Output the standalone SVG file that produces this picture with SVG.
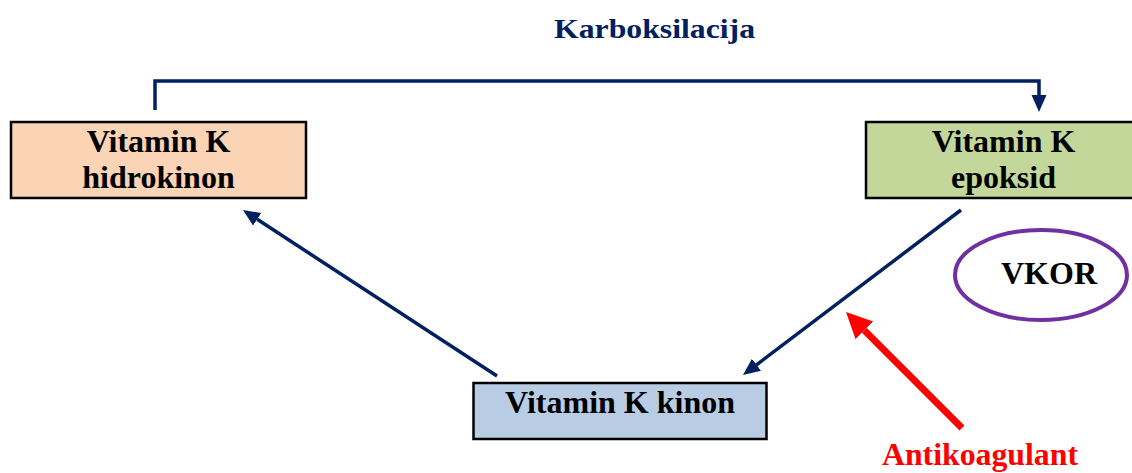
<svg xmlns="http://www.w3.org/2000/svg" width="1132" height="473" viewBox="0 0 1132 473">
<style>
.box{stroke:#000;stroke-width:2.5}
.t{font-family:"Liberation Serif","Times New Roman",serif;font-weight:bold;font-size:32px;fill:#000;text-anchor:middle}
.conn{fill:none;stroke:#002060;stroke-width:3.5}
</style>
<defs>
<marker id="ah" markerUnits="userSpaceOnUse" markerWidth="18" markerHeight="16" refX="0" refY="7.5" orient="auto">
<path d="M0,0 L17,7.5 L0,15 z" fill="#002060"/>
</marker>
<marker id="ahr" markerUnits="userSpaceOnUse" markerWidth="27" markerHeight="26" refX="0" refY="12.5" orient="auto">
<path d="M0,0 L26,12.5 L0,25 z" fill="#FF0000"/>
</marker>
</defs>
<rect width="1132" height="473" fill="#fff"/>
<text x="654.5" y="38" class="t" style="fill:#002060;font-size:28px" textLength="201" lengthAdjust="spacingAndGlyphs">Karboksilacija</text>
<g id="connectors">
<path class="conn" d="M155,110 L155,81 L1039,81 L1039,95" marker-end="url(#ah)"/>
<line class="conn" x1="497" y1="376" x2="257.2" y2="219.3" marker-end="url(#ah)"/>
<line class="conn" x1="961" y1="210" x2="756.5" y2="364.8" marker-end="url(#ah)"/>
<line x1="962" y1="428" x2="864.4" y2="330.4" stroke="#FF0000" stroke-width="7" marker-end="url(#ahr)"/>
</g>
<g id="hidrokinon">
<rect class="box" x="11" y="122" width="295" height="76" fill="#FAD4B4"/>
<text class="t" x="158.5" y="152">Vitamin K</text>
<text class="t" x="158.5" y="188">hidrokinon</text>
</g>
<g id="epoksid">
<rect class="box" x="866" y="122" width="295" height="76" fill="#C4D79B"/>
<text class="t" x="1003.5" y="152">Vitamin K</text>
<text class="t" x="1003.5" y="188">epoksid</text>
</g>
<g id="kinon">
<rect class="box" x="473.5" y="383" width="293" height="56" fill="#B8CCE4"/>
<text class="t" x="620" y="413">Vitamin K kinon</text>
</g>
<g id="vkor">
<ellipse cx="1041" cy="275" rx="86" ry="45" fill="none" stroke="#7030A0" stroke-width="4"/>
<text class="t" x="1049" y="284">VKOR</text>
</g>
<g id="antikoagulant">
<text class="t" x="980" y="465" style="fill:#FF0000" textLength="196" lengthAdjust="spacingAndGlyphs">Antikoagulant</text>
</g>
</svg>
